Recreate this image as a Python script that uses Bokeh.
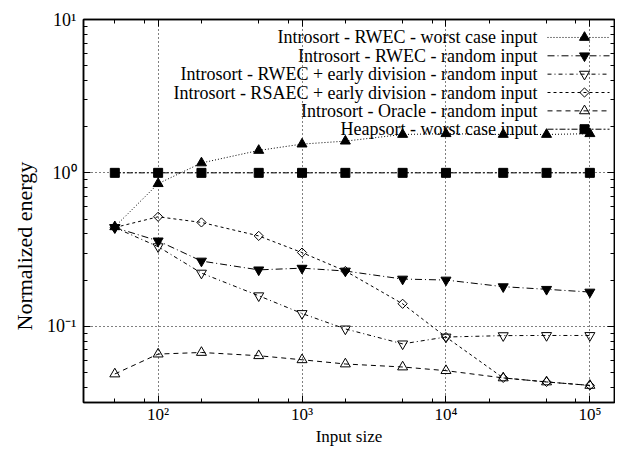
import math
from bokeh.plotting import figure
from bokeh.models import FixedTicker, LogAxis, Range1d, LinearScale, ColumnDataSource, Title
from bokeh.core.properties import value
from bokeh.embed import file_html
from bokeh.resources import INLINE

# ---------------- data ----------------
input_size = [50, 100, 200, 500, 1000, 2000, 5000, 10000, 25000, 50000, 100000]

rwec_worst = [0.445, 0.85, 1.16, 1.40, 1.54, 1.61, 1.78, 1.80, 1.78, 1.78, 1.80]
rwec_random = [0.44, 0.36, 0.266, 0.233, 0.239, 0.229, 0.203, 0.200, 0.181, 0.174, 0.167]
rwec_early_random = [0.44, 0.33, 0.222, 0.158, 0.121, 0.096, 0.0767, 0.085, 0.0868, 0.087, 0.087]
rsaec_early_random = [0.44, 0.517, 0.475, 0.388, 0.302, 0.229, 0.140, 0.085, 0.046, 0.0433, 0.0411]
oracle_random = [0.0488, 0.0658, 0.0674, 0.0642, 0.0604, 0.0567, 0.0542, 0.0513, 0.046, 0.0433, 0.0411]
heapsort_worst = [1.0, 1.0, 1.0, 1.0, 1.0, 1.0, 1.0, 1.0, 1.0, 1.0, 1.0]

series_names = [
    "Introsort - RWEC - worst case input",
    "Introsort - RWEC - random input",
    "Introsort - RWEC + early division - random input",
    "Introsort - RSAEC + early division - random input",
    "Introsort - Oracle - random input",
    "Heapsort - worst case input",
]
series_values = [rwec_worst, rwec_random, rwec_early_random,
                 rsaec_early_random, oracle_random, heapsort_worst]

x_ticks = [100, 1000, 10000, 100000]
x_tick_labels = ["10²", "10³", "10⁴", "10⁵"]
x_minor_ticks = [50, 80, 200, 500, 800, 2000, 5000, 8000, 20000, 50000, 80000]
y_ticks = [0.1, 1, 10]
y_tick_labels = ["10⁻¹", "10⁰", "10¹"]
y_minor_ticks = [0.04, 0.05, 0.06, 0.07, 0.08, 0.09,
                 0.2, 0.3, 0.4, 0.5, 0.6, 0.7, 0.8, 0.9,
                 2, 3, 4, 5, 6, 7, 8, 9]

# ---------------- styles ----------------
FONT = "Liberation Serif"
styles = [
    dict(marker="triangle", size=10, fill="black", dash="1 2", angle=0.0),
    dict(marker="inverted_triangle", size=10, fill="black", dash="7 3 1 3", angle=0.0),
    dict(marker="inverted_triangle", size=10, fill=None, dash="4 3 1 3", angle=0.0),
    dict(marker="square", size=6.5, fill=None, dash="3 3", angle=math.pi / 4),
    dict(marker="triangle", size=10, fill=None, dash="5 4", angle=0.0),
    dict(marker="square", size=9, fill="black", dash="6 2 2 2", angle=0.0),
]

FRAME_W, FRAME_H = 531, 384

p = figure(width=615, height=448, x_axis_type="log", y_axis_type="log",
           x_range=Range1d(30.3, 148300), y_range=Range1d(0.0318, 10),
           output_backend="svg", toolbar_location=None,
           min_border_left=83, min_border_right=1, min_border_top=19, min_border_bottom=45,
           background_fill_color="white", border_fill_color="white")

p.extra_x_ranges = {"px": Range1d(0, FRAME_W)}
p.extra_x_scales = {"px": LinearScale()}
p.extra_y_ranges = {"px": Range1d(FRAME_H, 0)}
p.extra_y_scales = {"px": LinearScale()}

p.outline_line_color = "black"
p.outline_line_width = 1.5

xt = FixedTicker(ticks=x_ticks, minor_ticks=x_minor_ticks)
yt = FixedTicker(ticks=y_ticks, minor_ticks=y_minor_ticks)

def style_axis(ax, ticker, labels=None, size="18px", standoff=7):
    ax.ticker = ticker
    ax.axis_line_color = "black"
    ax.axis_line_width = 1.5
    ax.major_tick_in = 7
    ax.major_tick_out = 0
    ax.minor_tick_in = 4
    ax.minor_tick_out = 0
    ax.major_tick_line_color = "black"
    ax.minor_tick_line_color = "black"
    ax.major_label_text_font = FONT
    ax.major_label_text_color = "black"
    if labels is not None:
        ax.major_label_overrides = labels
        ax.major_label_text_font_size = size
        ax.major_label_standoff = standoff
    else:
        ax.major_label_text_font_size = "2px"
        ax.major_label_text_alpha = 0.0
        ax.major_label_standoff = 0

style_axis(p.xaxis[0], xt, dict(zip(x_ticks, x_tick_labels)), size="17px", standoff=2)
style_axis(p.yaxis[0], yt, dict(zip(y_ticks, y_tick_labels)), size="18px", standoff=7)
p.xaxis[0].axis_label = "Input size"
p.xaxis[0].axis_label_text_font = FONT
p.xaxis[0].axis_label_text_font_size = "17px"
p.xaxis[0].axis_label_text_font_style = "normal"
p.xaxis[0].axis_label_text_color = "black"
p.xaxis[0].axis_label_standoff = 0

top_ax = LogAxis()
style_axis(top_ax, xt)
p.add_layout(top_ax, "above")
right_ax = LogAxis()
style_axis(right_ax, yt)
p.add_layout(right_ax, "right")

for g, t in ((p.xgrid[0], xt), (p.ygrid[0], yt)):
    g.ticker = t
    g.grid_line_color = "black"
    g.grid_line_dash = "1 3"
    g.grid_line_width = 1

# ---------------- series ----------------
for vals, st in zip(series_values, styles):
    src = ColumnDataSource(dict(x=input_size, y=vals))
    p.line("x", "y", source=src, line_color="black", line_width=1, line_dash=st["dash"])
    p.scatter("x", "y", source=src, marker=st["marker"], size=st["size"], angle=st["angle"],
              line_color="black", line_width=1,
              fill_color=st["fill"] if st["fill"] else "white",
              fill_alpha=1.0 if st["fill"] else 0.0)

# ---------------- legend (gnuplot style: text right-aligned, sample on the right) ----------------
row_y = [18 + 18.4 * i for i in range(len(series_names))]
p.text(x=[454] * len(series_names), y=row_y, text=series_names,
       x_range_name="px", y_range_name="px",
       text_align="right", text_baseline="middle", text_color="black",
       text_font=value(FONT), text_font_size=value("18px"))
for yy, st in zip(row_y, styles):
    p.segment(x0=[464], y0=[yy], x1=[526], y1=[yy], x_range_name="px", y_range_name="px",
              line_color="black", line_width=1, line_dash=st["dash"])
    p.scatter(x=[501], y=[yy], x_range_name="px", y_range_name="px",
              marker=st["marker"], size=st["size"], angle=st["angle"],
              line_color="black", line_width=1,
              fill_color=st["fill"] if st["fill"] else "white",
              fill_alpha=1.0 if st["fill"] else 0.0)

ytitle = Title(text="Normalized energy", align="left", offset=72, standoff=16,
               text_font=FONT, text_font_size="22px", text_font_style="normal",
               text_color="black")
p.add_layout(ytitle, "left")

open("out.html", "w").write(file_html(p, INLINE))
